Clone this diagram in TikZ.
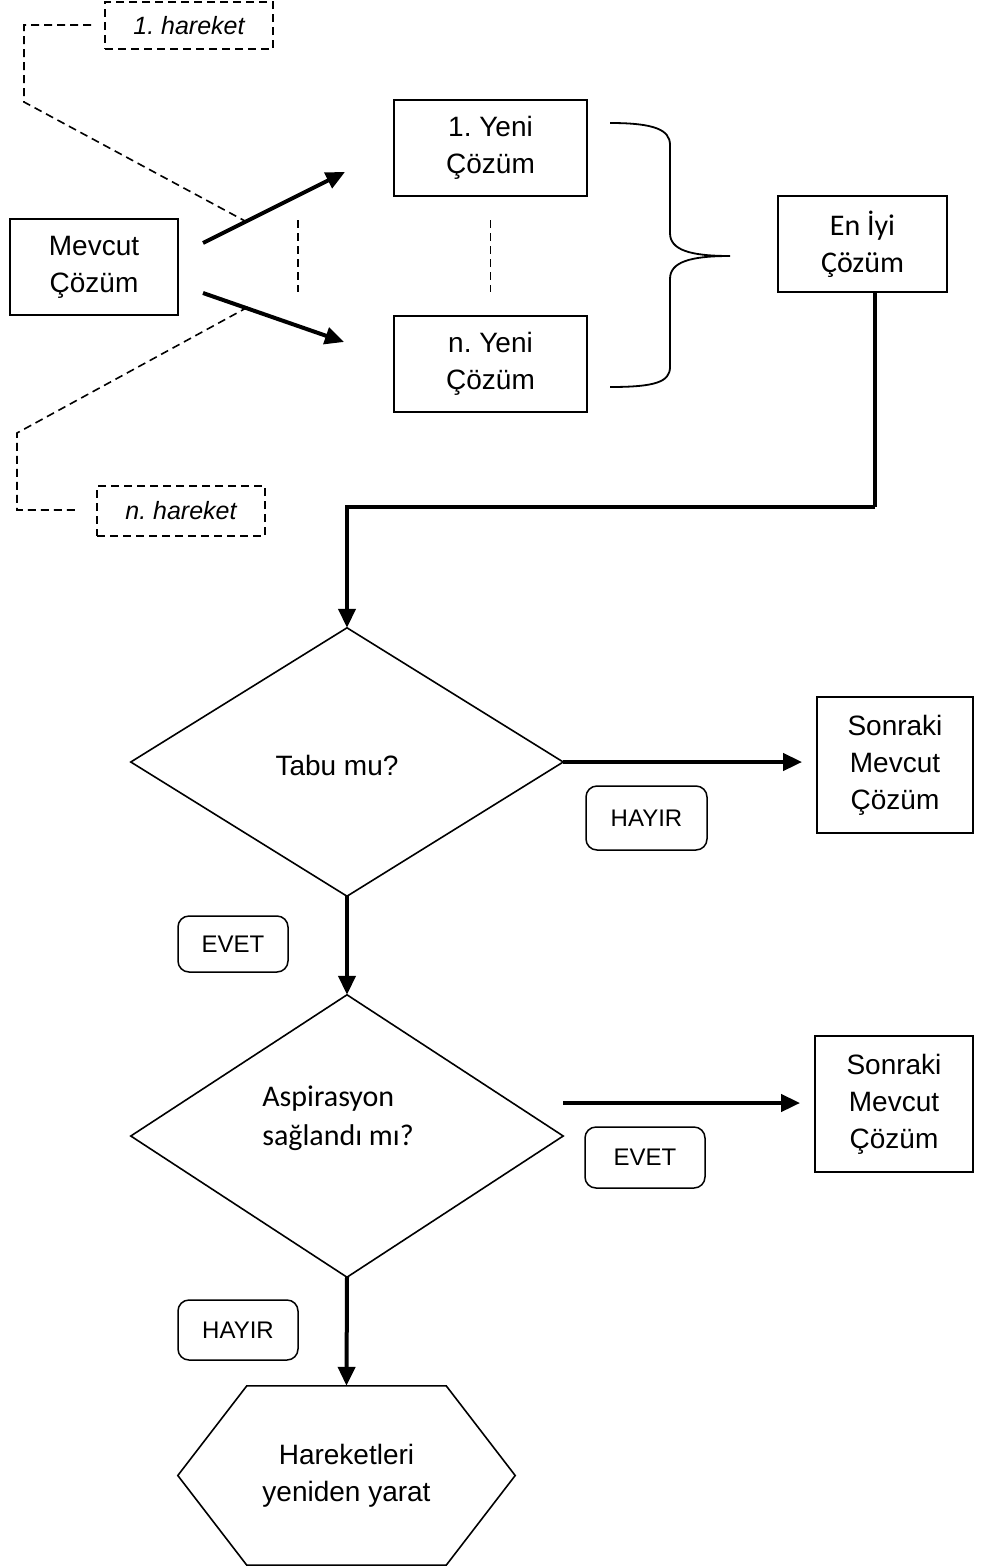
\documentclass[tikz,border=0pt]{standalone}
\usepackage{fontspec}
\setmainfont{Liberation Sans}
\newfontfamily\calfont{Carlito}
\usetikzlibrary{arrows.meta}
\frenchspacing
\tikzset{
  txt/.style={font=\fontsize{28}{37}\selectfont, align=center, inner sep=0pt},
  box/.style={txt, draw, line width=1.8pt, rectangle},
  tag/.style={draw, line width=1.5pt, rounded corners=11pt, inner sep=0pt,
    font=\fontsize{24}{28}\selectfont},
  mv/.style={draw, line width=1.6pt, dash pattern=on 8pt off 5pt, inner sep=0pt,
    font=\fontsize{25}{28}\selectfont\itshape},
  dline/.style={line width=1.6pt, dash pattern=on 8pt off 5pt},
  thick arrow/.style={line width=4pt, -{Triangle[length=19pt,width=17pt]}},
  flow/.style={line width=4pt},
  shapeline/.style={line width=1.6pt, line join=miter},
}
\begin{document}
\begin{tikzpicture}[x=1pt,y=-1pt]
\useasboundingbox (0,0) rectangle (988,1566);

% --- top part: neighbourhood generation
\node[box, minimum width=168pt, minimum height=96pt] (mevcut) at (94,267) {Mevcut\\Çözüm};
\node[box, minimum width=193pt, minimum height=96pt] (yeni1) at (490.5,148) {1. Yeni\\Çözüm};
\node[box, minimum width=193pt, minimum height=96pt] (yenin) at (490.5,364) {n. Yeni\\Çözüm};
\node[box, minimum width=169pt, minimum height=96pt, font=\calfont\fontsize{30}{37}\selectfont] (eniyi) at (862.5,244) {En İyi\\Çözüm};

\node[mv, minimum width=168pt, minimum height=47pt] (h1) at (189,25.5) {1. hareket};
\node[mv, minimum width=168pt, minimum height=50pt] (hn) at (181,511) {n. hareket};

\coordinate (a1s) at (203,243);
\coordinate (a1e) at (345,172);
\coordinate (a2s) at (203,293);
\coordinate (a2e) at (344,342);
\draw[thick arrow] (a1s) -- (a1e);
\draw[thick arrow] (a2s) -- (a2e);

% dashed leaders to the moves
\coordinate (h1a) at (91,25);
\coordinate (h1b) at (24,25);
\coordinate (h1c) at (24,102);
\coordinate (h1d) at (245,221);
\draw[dline] (h1a) -- (h1b) -- (h1c) -- (h1d);
\coordinate (hna) at (248,307);
\coordinate (hnb) at (17,433);
\coordinate (hnc) at (17,510);
\coordinate (hnd) at (75,510);
\draw[dline] (hna) -- (hnb) -- (hnc) -- (hnd);

% ellipsis between moves and between new solutions
\coordinate (v1a) at (298,220);
\coordinate (v1b) at (298,292);
\draw[dline] (v1a) -- (v1b);
\draw[dline] (yeni1.south |- v1a) -- (yenin.north |- v1b);

% curly brace gathering the new solutions
\coordinate (br1) at (610,123);
\coordinate (brm) at (730,256);
\coordinate (br2) at (610,387);
\draw[line width=1.8pt]
  (br1) .. controls (655,123) and (670,130) .. (670,145)
  -- (670,233) .. controls (670,250) and (690,256) .. (brm)
  .. controls (690,256) and (670,262) .. (670,279)
  -- (670,367) .. controls (670,382) and (655,387) .. (br2);

% --- decision part
\node[minimum width=432pt, minimum height=268pt, inner sep=0pt] (d1) at (347,762) {};
\draw[shapeline] (d1.north) -- (d1.east) -- (d1.south) -- (d1.west) -- cycle;
\node[txt] at ([xshift=-10pt,yshift=-3pt]d1.center) {Tabu mu?};

\node[minimum width=432pt, minimum height=282pt, inner sep=0pt] (d2) at (347,1136) {};
\draw[shapeline] (d2.north) -- (d2.east) -- (d2.south) -- (d2.west) -- cycle;
\node[txt, align=left, font=\calfont\fontsize{30}{39}\selectfont] at ([xshift=-9pt,yshift=18pt]d2.center) {Aspirasyon\\sağlandı mı?};

\node[minimum width=337pt, minimum height=179pt, inner sep=0pt] (hex) at (346.5,1475.5) {};
\draw[shapeline] ([xshift=69pt]hex.north west) -- ([xshift=-69pt]hex.north east)
  -- (hex.east) -- ([xshift=-69pt]hex.south east) -- ([xshift=69pt]hex.south west)
  -- (hex.west) -- cycle;
\node[txt] at (hex.center) {Hareketleri\\yeniden yarat};

\node[box, minimum width=156pt, minimum height=136pt] (son1) at (895,765) {Sonraki\\Mevcut\\Çözüm};
\node[box, minimum width=158pt, minimum height=136pt] (son2) at (894,1104) {Sonraki\\Mevcut\\Çözüm};

\node[tag, minimum width=121pt, minimum height=64pt] (hayir1) at (646.5,818) {HAYIR};
\node[tag, minimum width=110pt, minimum height=56pt] (evet1) at (233,944) {EVET};
\node[tag, minimum width=120pt, minimum height=61pt] (evet2) at (645,1157.5) {EVET};
\node[tag, minimum width=120pt, minimum height=60pt] (hayir2) at (238,1330) {HAYIR};

% connectors
\coordinate (bend) at (875,507);
\draw[flow] (eniyi.south -| bend) -- (bend);
\draw[thick arrow] (bend) -| (d1.north);
\draw[thick arrow, shorten >=14pt] (d1.east) -- (son1.west |- d1.east);
\draw[thick arrow] (d1.south) -- (d2.north);
\coordinate (a3s) at (563,1103);
\draw[thick arrow, shorten >=14pt] (a3s) -- (son2.west |- a3s);
\draw[thick arrow] (d2.south) -- (hex.north);
\end{tikzpicture}
\end{document}
